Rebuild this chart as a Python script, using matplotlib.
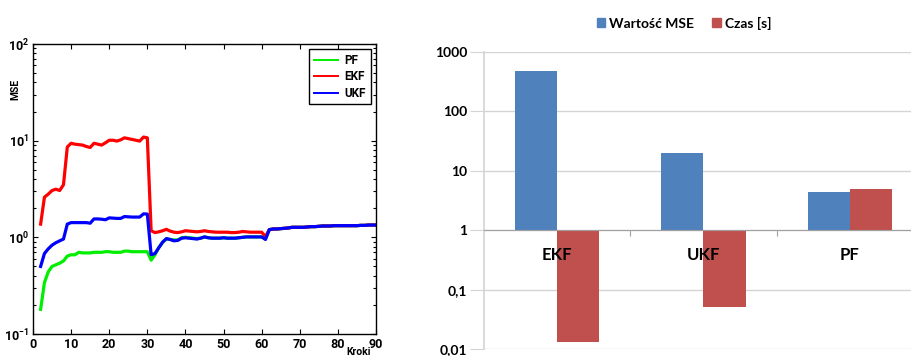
import numpy as np
import matplotlib.pyplot as plt
from matplotlib.patches import Patch
from matplotlib.lines import Line2D
from matplotlib.ticker import FixedLocator, NullFormatter, NullLocator, LogLocator
import matplotlib.transforms as mtransforms

plt.rcParams['mathtext.fontset'] = 'custom'
plt.rcParams['mathtext.rm'] = 'Roboto'
plt.rcParams['mathtext.bf'] = 'Roboto:bold'

czcionka = 'Roboto'

# --- dane lewego wykresu (MSE w kolejnych krokach) ---
kroki = list(range(2, 91))

ogon = [1.22, 1.22, 1.23, 1.24, 1.25, 1.27, 1.27, 1.27, 1.27, 1.28, 1.29, 1.29, 1.30, 1.31,
        1.31, 1.31, 1.32, 1.32, 1.32, 1.32, 1.32, 1.32, 1.32, 1.33, 1.33, 1.34, 1.34, 1.34]  # kroki 63..90

mse_ekf = [1.37, 2.6, 2.8, 3.05, 3.15, 3.05, 3.5, 8.6, 9.4, 9.2, 9.1, 9.0, 8.7, 8.5, 9.4, 9.2,
           9.0, 9.5, 10.1, 10.1, 9.9, 10.2, 10.7, 10.5, 10.3, 10.1, 9.9, 10.9, 10.7,
           1.17, 1.12, 1.14, 1.17, 1.21, 1.16, 1.13, 1.12, 1.14, 1.17, 1.16, 1.15, 1.14, 1.15,
           1.17, 1.15, 1.14, 1.13, 1.13, 1.13, 1.13, 1.12, 1.12, 1.13, 1.15, 1.14, 1.13, 1.13,
           1.13, 1.13, 1.02, 1.20] + ogon

mse_ukf = [0.50, 0.68, 0.76, 0.83, 0.88, 0.92, 0.96, 1.37, 1.42, 1.42, 1.42, 1.42, 1.42, 1.40,
           1.55, 1.55, 1.54, 1.52, 1.59, 1.58, 1.57, 1.57, 1.64, 1.63, 1.62, 1.62, 1.62, 1.75, 1.74,
           0.66, 0.68, 0.78, 0.89, 0.97, 0.95, 0.92, 0.93, 0.98, 0.99, 0.98, 0.97, 0.96, 0.98,
           1.01, 0.99, 0.98, 0.98, 0.98, 0.99, 0.98, 0.98, 0.98, 0.99, 1.00, 1.01, 1.01, 1.01,
           1.01, 1.01, 0.95, 1.20] + ogon

mse_pf = [0.18, 0.34, 0.44, 0.50, 0.52, 0.54, 0.57, 0.64, 0.66, 0.66, 0.70, 0.69, 0.69, 0.69,
          0.70, 0.70, 0.70, 0.71, 0.71, 0.70, 0.70, 0.70, 0.72, 0.72, 0.71, 0.71, 0.71, 0.71, 0.71,
          0.58, 0.66, 0.78, 0.89, 0.96, 0.95, 0.94, 0.94, 0.99, 1.00, 0.99, 0.98, 0.97, 0.98,
          1.01, 0.99, 0.98, 0.98, 0.98, 0.99, 0.98, 0.98, 0.98, 0.99, 1.00, 1.01, 1.01, 1.01,
          1.01, 1.01, 0.97, 1.20] + ogon

# --- dane prawego wykresu ---
filtry = ['EKF', 'UKF', 'PF']
wartosc_mse = [480, 20, 4.4]
czas = [0.013, 0.05, 4.9]

fig = plt.figure(figsize=(9.12, 3.56), dpi=100)

# lewy wykres (styl matlaba)
zielony, czerw, nieb = '#00ee00', '#ff0000', '#0000ff'
ax1 = fig.add_axes([33/912, 22/356, 343/912, 290/356])
ax1.plot(kroki, mse_pf, color=zielony, lw=2.3)
ax1.plot(kroki, mse_ekf, color=czerw, lw=2.3)
ax1.plot(kroki, mse_ukf, color=nieb, lw=2.3)
ax1.set_yscale('log')
ax1.set_xlim(0, 90)
ax1.set_ylim(0.1, 100)
ax1.set_xticks(range(0, 91, 10))
ax1.yaxis.set_major_locator(FixedLocator([0.1, 1, 10, 100]))
ax1.set_yticklabels([r'$\mathbf{10^{-1}}$', r'$\mathbf{10^{0}}$', r'$\mathbf{10^{1}}$', r'$\mathbf{10^{2}}$'])
ax1.yaxis.set_minor_locator(LogLocator(base=10, subs=np.arange(2, 10)))
ax1.yaxis.set_minor_formatter(NullFormatter())
ax1.tick_params(which='both', direction='in', top=True, right=True, width=0.8)
ax1.tick_params(which='major', length=3.5, pad=3)
ax1.tick_params(which='minor', length=2)
for lab in ax1.get_xticklabels():
    lab.set_fontfamily(czcionka)
    lab.set_fontweight('bold')
    lab.set_fontsize(9)
for lab in ax1.get_yticklabels():
    lab.set_fontsize(9)
for s in ax1.spines.values():
    s.set_linewidth(1.0)
ax1.set_ylabel('MSE', fontfamily=czcionka, fontweight='bold', fontsize=7.5)
ax1.yaxis.set_label_coords(-0.036, 0.845)
ax1.set_xlabel('Kroki', fontfamily=czcionka, fontweight='bold', fontsize=7.5)
ax1.xaxis.set_label_coords(0.95, -0.045)
uchwyty1 = [Line2D([], [], color=zielony, lw=1.4), Line2D([], [], color=czerw, lw=1.4),
            Line2D([], [], color=nieb, lw=1.4)]
leg = ax1.legend(uchwyty1, ['PF', 'EKF', 'UKF'], loc='upper right',
                 bbox_to_anchor=(0.985, 0.983), fancybox=False,
                 edgecolor='black', framealpha=1, handlelength=2.0, handletextpad=0.6,
                 borderpad=0.4, borderaxespad=0, labelspacing=0.3,
                 prop={'family': czcionka, 'weight': 'bold', 'size': 8.5})
leg.get_frame().set_linewidth(1.0)

# prawy wykres (styl excela)
niebieski = '#4f81bd'
czerwony = '#c0504d'
ax2 = fig.add_axes([484/912, 7/356, 439/912, 297/356])
x = np.arange(len(filtry))
w = 0.288
ax2.bar(x - w/2, np.array(wartosc_mse) - 1, bottom=1, width=w, color=niebieski, zorder=3)
ax2.bar(x + w/2, np.array(czas) - 1, bottom=1, width=w, color=czerwony, zorder=3)
ax2.set_yscale('log')
ax2.set_ylim(0.01, 1000)
ax2.set_xlim(-0.5, 2.5)
ax2.yaxis.set_major_locator(FixedLocator([0.01, 0.1, 1, 10, 100, 1000]))
ax2.set_yticklabels(['0,01', '0,1', '1', '10', '100', '1000'],
                    fontfamily='Lato', fontweight='bold', fontsize=10)
ax2.yaxis.set_minor_locator(NullLocator())
ax2.grid(axis='y', color='#d4d4d4', lw=1, zorder=0)
ax2.tick_params(axis='y', length=10, color='#d4d4d4', pad=2)
ax2.set_xticks([0.5, 1.5])
ax2.set_xticklabels([])
ax2.tick_params(axis='x', length=4, color='#a0a0a0', direction='out')
przesun = ax2.transData + mtransforms.ScaledTranslation(0, -17/100, fig.dpi_scale_trans)
for xi, nazwa in zip(x, filtry):
    ax2.text(xi, 1, nazwa, fontfamily='Lato', fontweight='bold', fontsize=12,
             ha='center', va='top', zorder=6, transform=przesun)
ax2.spines['top'].set_visible(False)
ax2.spines['right'].set_visible(False)
ax2.spines['bottom'].set_position(('data', 1))
ax2.spines['bottom'].set_color('#a0a0a0')
ax2.spines['bottom'].set_zorder(4)
ax2.spines['left'].set_color('#d4d4d4')
ax2.spines['left'].set_linewidth(1.2)

uchwyty = [Patch(color=niebieski), Patch(color=czerwony)]
fig.legend(uchwyty, ['Wartość MSE', 'Czas [s]'], loc='center', ncol=2,
           bbox_to_anchor=(684/912, 1 - 23/356), frameon=False,
           handlelength=0.6, handleheight=0.6, handletextpad=0.3, columnspacing=1.3,
           prop={'family': 'Lato', 'weight': 'bold', 'size': 10})

fig.savefig('out.png', dpi=100)
